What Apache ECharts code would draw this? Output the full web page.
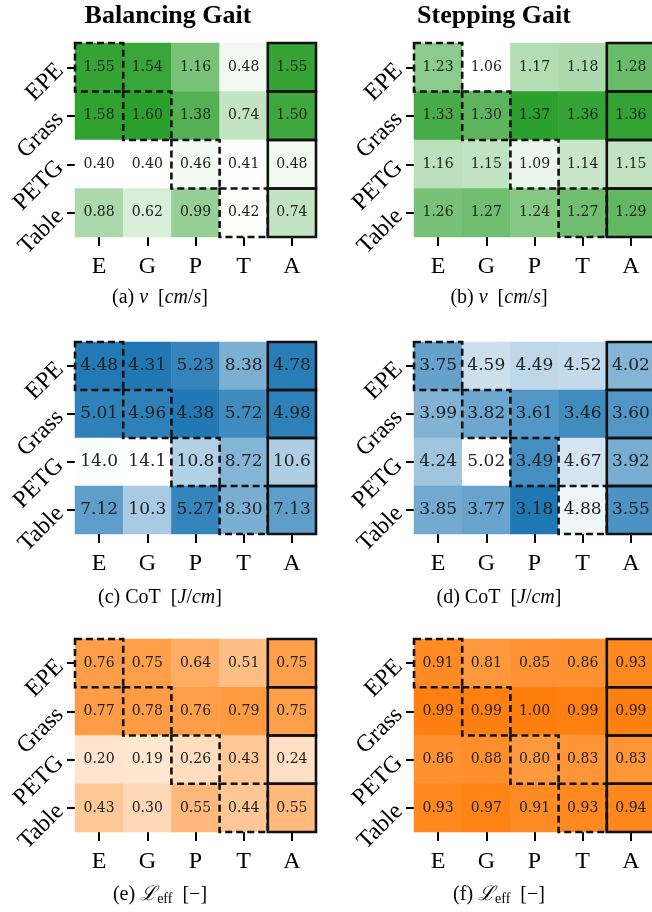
<!DOCTYPE html>
<html><head><meta charset="utf-8">
<script src="https://cdn.jsdelivr.net/npm/echarts@6/dist/echarts.min.js"></script>
<style>html,body{margin:0;padding:0;background:#fff}#c{width:652px;height:912px}</style>
</head><body><div id="c"></div>
<script>
// ---- data ----
const trainSets = ['E', 'G', 'P', 'T', 'A'];
const testSurfaces = ['EPE', 'Grass', 'PETG', 'Table'];

const balancingVelocity = [
  [1.55, 1.54, 1.16, 0.48, 1.55],
  [1.58, 1.60, 1.38, 0.74, 1.50],
  [0.40, 0.40, 0.46, 0.41, 0.48],
  [0.88, 0.62, 0.99, 0.42, 0.74]
];
const steppingVelocity = [
  [1.23, 1.06, 1.17, 1.18, 1.28],
  [1.33, 1.30, 1.37, 1.36, 1.36],
  [1.16, 1.15, 1.09, 1.14, 1.15],
  [1.26, 1.27, 1.24, 1.27, 1.29]
];
const balancingCoT = [
  [4.48, 4.31, 5.23, 8.38, 4.78],
  [5.01, 4.96, 4.38, 5.72, 4.98],
  [14.0, 14.1, 10.8, 8.72, 10.6],
  [7.12, 10.3, 5.27, 8.30, 7.13]
];
const steppingCoT = [
  [3.75, 4.59, 4.49, 4.52, 4.02],
  [3.99, 3.82, 3.61, 3.46, 3.60],
  [4.24, 5.02, 3.49, 4.67, 3.92],
  [3.85, 3.77, 3.18, 4.88, 3.55]
];
const balancingEff = [
  [0.76, 0.75, 0.64, 0.51, 0.75],
  [0.77, 0.78, 0.76, 0.79, 0.75],
  [0.20, 0.19, 0.26, 0.43, 0.24],
  [0.43, 0.30, 0.55, 0.44, 0.55]
];
const steppingEff = [
  [0.91, 0.81, 0.85, 0.86, 0.93],
  [0.99, 0.99, 1.00, 0.99, 0.99],
  [0.86, 0.88, 0.80, 0.83, 0.83],
  [0.93, 0.97, 0.91, 0.93, 0.94]
];
const columnTitles = ['Balancing Gait', 'Stepping Gait'];

// ---- layout / style ----
const GREEN = '#2ca02c', BLUE = '#1f77b4', ORANGE = '#ff7f0e';
const colLeft = [75, 414];
const cellW = 241;
const rowTop = [43, 342, 639];
const rowH = [194, 192, 193];
const captionY = [298, 598, 895];
const captionX = [160, 499];
const titleX = [168, 494];

const fmt2 = v => v.toFixed(2);
const fmt3 = v => v.toPrecision(3);
const flat = m => [].concat(...m);

const panels = [
  {data: balancingVelocity, col: 0, row: 0, colors: ['#ffffff', GREEN], range: 'data', fmt: fmt2, fs: 14, letter: 'a', kind: 'v'},
  {data: steppingVelocity, col: 1, row: 0, colors: ['#ffffff', GREEN], range: 'data', fmt: fmt2, fs: 14, letter: 'b', kind: 'v'},
  {data: balancingCoT, col: 0, row: 1, colors: [BLUE, '#ffffff'], range: 'data', fmt: fmt3, fs: 17, letter: 'c', kind: 'cot'},
  {data: steppingCoT, col: 1, row: 1, colors: [BLUE, '#ffffff'], range: 'data', fmt: fmt3, fs: 17, letter: 'd', kind: 'cot'},
  {data: balancingEff, col: 0, row: 2, colors: ['#ffffff', ORANGE], range: [0, 1], fmt: fmt2, fs: 14, letter: 'e', kind: 'eff'},
  {data: steppingEff, col: 1, row: 2, colors: ['#ffffff', ORANGE], range: [0, 1], fmt: fmt2, fs: 14, letter: 'f', kind: 'eff'}
];

const SERIF = '"Liberation Serif", "Times New Roman", serif';
const grids = [], xAxes = [], yAxes = [], series = [], visualMaps = [], graphics = [];

panels.forEach((p, i) => {
  grids.push({left: colLeft[p.col], top: rowTop[p.row], width: cellW, height: rowH[p.row],
    containLabel: false, outerBoundsMode: 'none'});
  xAxes.push({
    type: 'category', gridIndex: i, data: trainSets, position: 'bottom',
    axisLine: {show: false},
    axisTick: {show: true, alignWithLabel: true, length: 9, lineStyle: {color: '#000', width: 2}},
    axisLabel: {fontFamily: SERIF, fontSize: 24, color: '#000', margin: 18},
    splitLine: {show: false}, splitArea: {show: false}
  });
  yAxes.push({
    type: 'category', gridIndex: i, data: testSurfaces, inverse: true,
    axisLine: {show: false},
    axisTick: {show: true, alignWithLabel: true, length: 8, lineStyle: {color: '#000', width: 2}},
    axisLabel: {fontFamily: SERIF, fontSize: 24, color: '#000', margin: 15, rotate: 45},
    splitLine: {show: false}, splitArea: {show: false}
  });
  const cells = [];
  p.data.forEach((rowVals, r) => rowVals.forEach((v, c) => cells.push([c, r, v])));
  const vals = flat(p.data);
  const mn = p.range === 'data' ? Math.min(...vals) : p.range[0];
  const mx = p.range === 'data' ? Math.max(...vals) : p.range[1];
  visualMaps.push({type: 'continuous', show: false, seriesIndex: i, dimension: 2, min: mn, max: mx, inRange: {color: p.colors}});
  series.push({
    type: 'heatmap', xAxisIndex: i, yAxisIndex: i, data: cells,
    label: {show: true, formatter: q => p.fmt(q.value[2]), color: '#222', fontFamily: '"DejaVu Serif", serif', fontSize: p.fs},
    itemStyle: {borderWidth: 0},
    emphasis: {disabled: true}
  });
});

// outlines: dashed where training set matches test surface, solid for the "A" (all) column
panels.forEach((p, i) => {
  const boxes = [];
  testSurfaces.forEach((s, r) => boxes.push([r, r, 1]));
  testSurfaces.forEach((s, r) => boxes.push([trainSets.length - 1, r, 0]));
  series.push({
    type: 'custom', xAxisIndex: i, yAxisIndex: i, data: boxes, silent: true, z: 10,
    encode: {x: 0, y: 1},
    renderItem: (params, api) => {
      const c = api.coord([api.value(0), api.value(1)]);
      const s = api.size([1, 1]);
      const dashed = api.value(2) === 1;
      return {
        type: 'rect',
        shape: {x: c[0] - s[0] / 2, y: c[1] - s[1] / 2, width: s[0], height: s[1]},
        style: {fill: 'none', stroke: '#111', lineWidth: 2.6, lineDash: dashed ? [7, 4] : null}
      };
    }
  });
});

// titles
columnTitles.forEach((t, k) => {
  graphics.push({type: 'text', x: titleX[k], y: 16, style: {
    text: t, fontFamily: SERIF, fontWeight: 'bold', fontSize: 26, fill: '#000', align: 'center', verticalAlign: 'middle'}});
});
// captions
const richStyles = {
  n: {fontFamily: SERIF, fontSize: 20, fill: '#000'},
  i: {fontFamily: SERIF, fontStyle: 'italic', fontSize: 20, fill: '#000'},
  L: {fontFamily: '"DejaVu Serif", serif', fontStyle: 'italic', fontSize: 20, fill: '#000'},
  sub: {fontFamily: SERIF, fontSize: 14, fill: '#000', padding: [8, 0, 0, 0]}
};
function captionText(p) {
  const head = '{n|(' + p.letter + ') }';
  if (p.kind === 'v') return head + '{i|v}{n|  [}{i|cm}{n|/}{i|s}{n|]}';
  if (p.kind === 'cot') return head + '{n|CoT  [}{i|J}{n|/}{i|cm}{n|]}';
  return head + '{L|ℒ}{sub|eff}{n|  [−]}';
}
panels.forEach(p => {
  graphics.push({type: 'text', x: captionX[p.col], y: captionY[p.row], style: {
    text: captionText(p), rich: richStyles, align: 'center', verticalAlign: 'middle'}});
});

const chart = echarts.init(document.getElementById('c'), null, {renderer: 'canvas'});
chart.setOption({
  backgroundColor: '#ffffff',
  animation: false,
  grid: grids, xAxis: xAxes, yAxis: yAxes,
  visualMap: visualMaps, series: series, graphic: graphics
});
</script>
</body></html>
